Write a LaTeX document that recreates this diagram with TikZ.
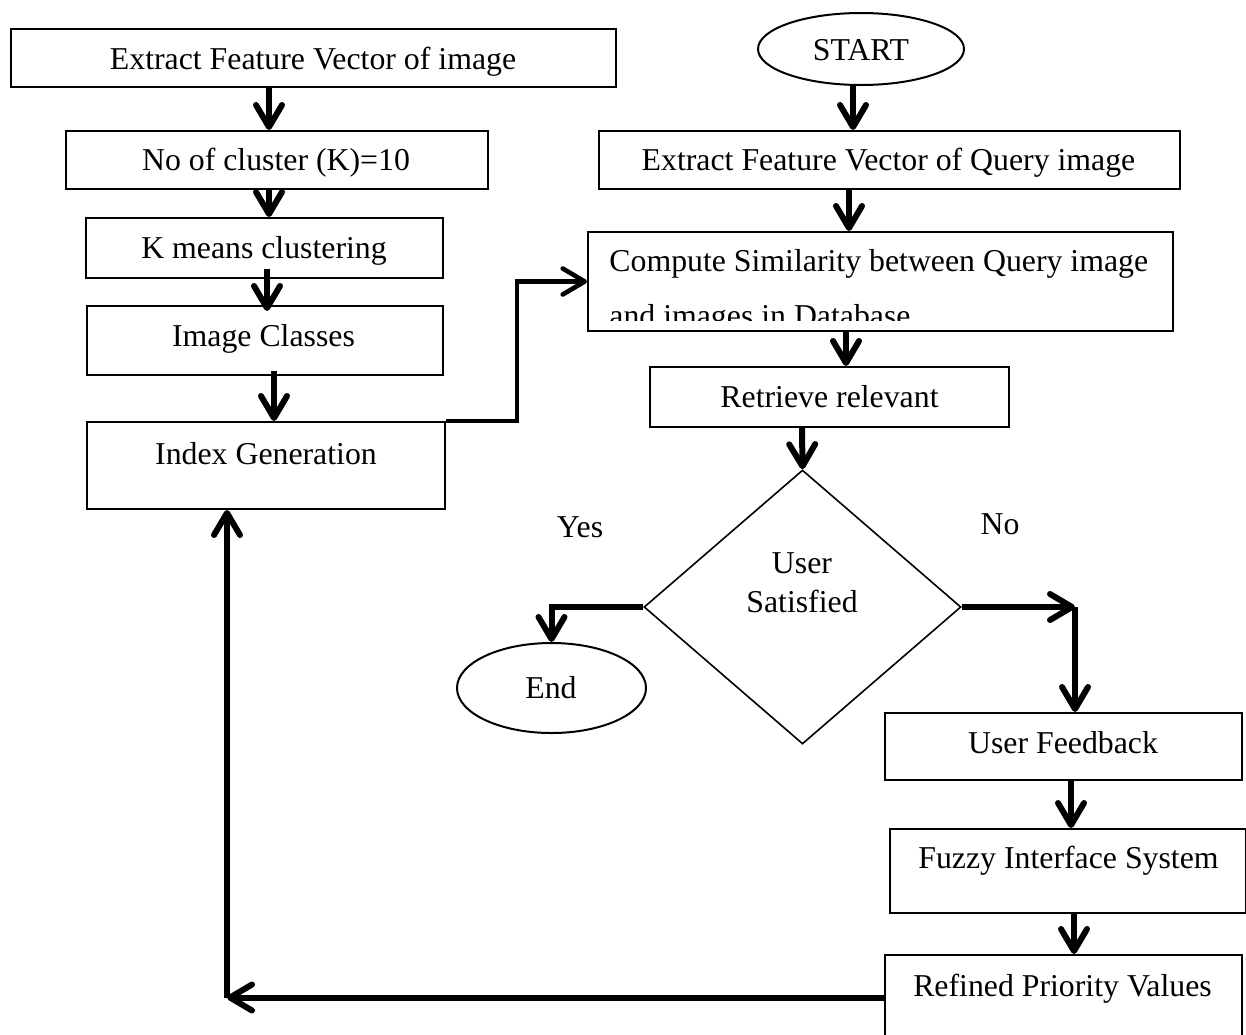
\documentclass[tikz,border=0pt]{standalone}
\usepackage{fontspec}
\setmainfont{Liberation Serif}
\usetikzlibrary{arrows.meta,shapes.geometric}
\begin{document}
\begin{tikzpicture}[x=0.5pt,y=-0.5pt,
  box/.style={draw,line width=1pt,rectangle,inner sep=0pt},
  oval/.style={draw,line width=1pt,ellipse,inner sep=0pt},
  dec/.style={draw,line width=0.8pt,diamond,inner sep=0pt},
  lbl/.style={anchor=base,inner sep=0pt,font=\fontsize{15.9pt}{19pt}\selectfont},
  tip/.style={-{Straight Barb[length=11pt,width=13pt,round]}},
  arr/.style={line width=3pt,tip},
  conn/.style={line width=2.3pt,tip}]
\useasboundingbox (0,0) rectangle (1246,1034);
% boxes
\node[box,minimum width=302.5pt,minimum height=29pt] (b1) at (313.5,58) {};
\node[box,minimum width=211pt,minimum height=29pt] (b2) at (277,160) {};
\node[box,minimum width=178.5pt,minimum height=30pt] (b3) at (264.5,248) {};
\node[box,minimum width=178pt,minimum height=34.5pt] (b4) at (265,340.5) {};
\node[box,minimum width=179pt,minimum height=43.5pt] (b5) at (266,465.5) {};
\node[oval,minimum width=103pt,minimum height=36pt] (start) at (861,49) {};
\node[box,minimum width=290.5pt,minimum height=29pt] (bq) at (889.5,160) {};
\node[box,minimum width=292.5pt,minimum height=49.5pt] (bc) at (880.5,281.5) {};
\node[box,minimum width=179.5pt,minimum height=30pt] (br) at (829.5,397) {};
\node[dec,minimum width=158.5pt,minimum height=137pt] (dia) at (802.5,607) {};
\node[oval,minimum width=94.5pt,minimum height=45pt] (endo) at (551.5,688) {};
\node[box,minimum width=178.5pt,minimum height=33.5pt] (uf) at (1063.5,746.5) {};
\node[box,minimum width=178pt,minimum height=42pt] (fz) at (1068,871) {};
\node[box,minimum width=178.5pt,minimum height=42.5pt] (rf) at (1063.5,997.5) {};
% labels
\node[lbl] (t1) at (313,69) {Extract Feature Vector of image};
\node[lbl] (t2) at (276,170) {No of cluster (K)=10};
\node[lbl] (t3) at (264,258) {K means clustering};
\node[lbl] (t4) at (263.5,346) {Image Classes};
\node[lbl] (t5) at (266,464) {Index Generation};
\node[lbl] (tstart) at (861,60) {START};
\node[lbl] (tq) at (888.5,170) {Extract Feature Vector of Query image};
\node[lbl,anchor=base west] (tc1) at (609,271) {Compute Similarity between Query image};
\begin{scope}
\clip (588,232) rectangle (1173,320);
\node[lbl,anchor=base west] (tc2) at (609,326) {and images in Database};
\end{scope}
\node[lbl] (tr) at (829.5,407) {Retrieve relevant};
\node[lbl] (tyes) at (580,537) {Yes};
\node[lbl] (tno) at (1000,534) {No};
\node[lbl] (tuser) at (802,573) {User};
\node[lbl] (tsat) at (802,612) {Satisfied};
\node[lbl] (tend) at (551,698) {End};
\node[lbl] (tuf) at (1063,753) {User Feedback};
\node[lbl] (tfz) at (1068.5,868) {Fuzzy Interface System};
\node[lbl] (trf) at (1062.5,996) {Refined Priority Values};
% connectors
\coordinate (xa) at (269,0);
\draw[arr] (b1.south -| xa) -- (b2.north -| xa);
\draw[arr] (b2.south -| xa) -- (b3.north -| xa);
\coordinate (a3s) at (267,269);
\coordinate (a3e) at (267,311);
\draw[arr] (a3s) -- (a3e);
\coordinate (a4s) at (274,371);
\draw[arr] (a4s) -- (a4s |- b5.north);
\coordinate (j) at (517,0);
\draw[conn] (b5.north east) -- (b5.north east -| j) |- (bc.west);
\coordinate (xs) at (853,0);
\draw[arr] (start.south -| xs) -- (bq.north -| xs);
\coordinate (xq) at (849,0);
\draw[arr] (bq.south -| xq) -- (bc.north -| xq);
\coordinate (xc) at (846,0);
\draw[arr] (bc.south -| xc) -- (br.north -| xc);
\coordinate (xr) at (802,0);
\draw[arr] (br.south -| xr) -- (dia.north);
\draw[arr] (dia.west) -| (endo.north);
\coordinate (nc) at (1075,607);
\draw[arr] (dia.east) -- (nc);
\draw[arr] (nc) -- (nc |- uf.north);
\coordinate (xu) at (1071,0);
\draw[arr] (uf.south -| xu) -- (fz.north -| xu);
\coordinate (xf) at (1074,0);
\draw[arr] (fz.south -| xf) -- (rf.north -| xf);
\coordinate (fb) at (227,997.5);
\draw[arr] (rf.west) -- (fb);
\draw[arr] (fb) -- (fb |- b5.south);
\end{tikzpicture}
\end{document}
